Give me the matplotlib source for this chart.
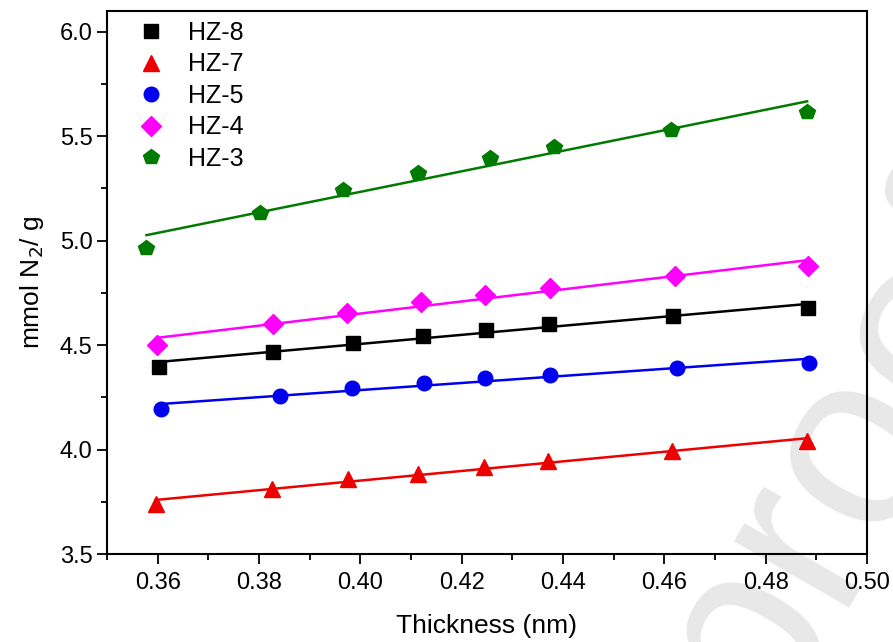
import numpy as np
import matplotlib
matplotlib.use("Agg")
import matplotlib.pyplot as plt
from matplotlib.ticker import MultipleLocator

plt.rcParams['font.family'] = ['Liberation Sans', 'DejaVu Sans']

labels = ["HZ-8", "HZ-7", "HZ-5", "HZ-4", "HZ-3"]
colors = ["black", "#ee0000", "#0000ee", "#ff00ff", "#007a00"]
markers = ["s", "^", "o", "D", "p"]

x_hz8 = [0.3603, 0.3827, 0.3986, 0.4124, 0.4249, 0.4373, 0.4618, 0.4884]
y_hz8 = [4.397, 4.466, 4.511, 4.546, 4.573, 4.599, 4.639, 4.677]
x_hz7 = [0.3596, 0.3826, 0.3976, 0.4113, 0.4245, 0.4370, 0.4616, 0.4882]
y_hz7 = [3.739, 3.813, 3.857, 3.885, 3.915, 3.945, 3.994, 4.039]
x_hz5 = [0.3607, 0.3841, 0.3984, 0.4126, 0.4247, 0.4374, 0.4626, 0.4885]
y_hz5 = [4.192, 4.258, 4.293, 4.321, 4.341, 4.357, 4.389, 4.415]
x_hz4 = [0.3599, 0.3828, 0.3974, 0.4119, 0.4246, 0.4374, 0.4621, 0.4884]
y_hz4 = [4.501, 4.602, 4.653, 4.706, 4.741, 4.775, 4.829, 4.879]
x_hz3 = [0.3578, 0.3803, 0.3965, 0.4113, 0.4256, 0.4383, 0.4614, 0.4882]
y_hz3 = [4.965, 5.133, 5.242, 5.325, 5.394, 5.450, 5.530, 5.615]

xs = [x_hz8, x_hz7, x_hz5, x_hz4, x_hz3]
ys = [y_hz8, y_hz7, y_hz5, y_hz4, y_hz3]
msizes = [10, 11.5, 10.5, 10.5, 11.5]

fig = plt.figure(figsize=(8.93, 6.42), dpi=100)
ax = fig.add_axes([0.1198, 0.137, 0.851, 0.846])

for x, y, c, m, lab, ms in zip(xs, ys, colors, markers, labels, msizes):
    x = np.array(x); y = np.array(y)
    k, b = np.polyfit(x, y, 1)
    xl = np.array([x.min(), x.max()])
    ax.plot(xl, k * xl + b, color=c, lw=1.8, zorder=2)
    ax.plot(x, y, ls='none', marker=m, color=c, ms=ms, mec=c, label=lab, zorder=3)

ax.set_xlim(0.35, 0.50)
ax.set_ylim(3.5, 6.1)
ax.xaxis.set_minor_locator(MultipleLocator(0.01))
ax.yaxis.set_major_locator(MultipleLocator(0.5))
ax.yaxis.set_minor_locator(MultipleLocator(0.25))
xt = np.arange(0.36, 0.501, 0.02)
ax.set_xticks(xt)
ax.set_xticklabels([f"{v:.2f}" for v in xt])
ax.tick_params(axis='both', which='major', direction='out', length=7, width=1.3,
               labelsize=17, top=False, right=False)
ax.tick_params(axis='x', which='major', pad=6)
ax.tick_params(axis='both', which='minor', direction='out', length=4, width=1.3,
               top=False, right=False)
for s in ax.spines.values():
    s.set_linewidth(1.5)

ax.set_xlabel("Thickness (nm)", fontsize=19, labelpad=14)
ax.set_ylabel("mmol N$_2$/ g", fontsize=19, labelpad=10)

leg = ax.legend(loc='upper left', frameon=False, fontsize=18, handletextpad=0.9,
                labelspacing=0.30, borderaxespad=0.0, handlelength=1.2,
                bbox_to_anchor=(0.025, 1.0))

ax.text(0.58, -0.64, "Journal Pre-proof", transform=fig.transFigure, rotation=60,
        fontsize=180, color='#e8e8e8', ha='center', va='center', zorder=0.5,
        clip_on=False)

fig.savefig("out.png", dpi=100)
